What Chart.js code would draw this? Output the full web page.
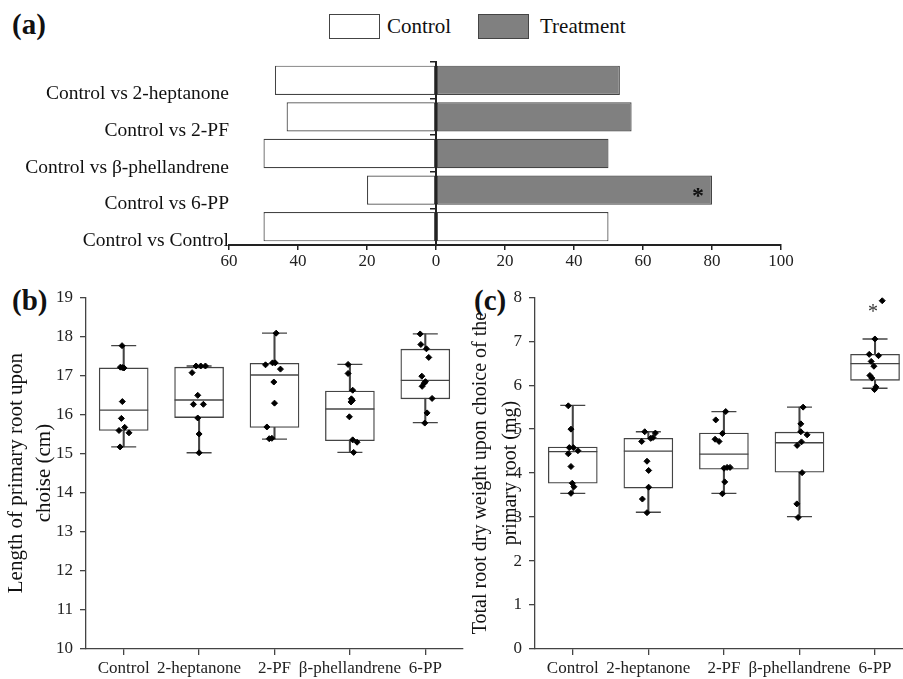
<!DOCTYPE html>
<html>
<head>
<meta charset="utf-8">
<script src="https://cdn.jsdelivr.net/npm/chart.js@4.4.1/dist/chart.umd.min.js"></script>
<style>
  body { margin: 0; background: #fff; width: 903px; height: 679px; position: relative; overflow: hidden; }
  canvas { position: absolute; }
  .tag { position: absolute; font: bold 29px "Liberation Serif", serif; line-height: 1; color: #111; }
  .key { position: absolute; top: 14px; width: 49px; height: 23px; border: 1.2px solid #444; }
  .keyText { position: absolute; top: 14px; font: 21px "Liberation Serif", serif; line-height: 25px; color: #111; }
</style>
</head>
<body>
<div class="tag" style="left:12px;top:10px">(a)</div>
<div class="tag" style="left:12px;top:286px">(b)</div>
<div class="tag" style="left:474px;top:286px">(c)</div>
<div id="legend"></div>
<canvas id="choiceChart" width="903" height="280" style="left:0;top:0"></canvas>
<canvas id="lengthChart" width="466" height="399" style="left:0;top:280px"></canvas>
<canvas id="weightChart" width="440" height="399" style="left:463px;top:280px"></canvas>
<script>
// (a) share of choices, %
const pairLabels = ["Control vs 2-heptanone", "Control vs 2-PF", "Control vs β-phellandrene", "Control vs 6-PP", "Control vs Control"];
const controlShare = [46.7, 43.3, 50, 20, 50];
const treatmentShare = [53.3, 56.7, 50, 80, 50];

const groups = ["Control", "2-heptanone", "2-PF", "β-phellandrene", "6-PP"];

// (b) length of primary root, cm
const lenMin = [15.17, 15.02, 15.37, 15.03, 15.79];
const lenQ1 = [15.59, 15.92, 15.67, 15.33, 16.4];
const lenMed = [16.11, 16.37, 17.01, 16.14, 16.87];
const lenQ3 = [17.19, 17.21, 17.31, 16.6, 17.67];
const lenMax = [17.76, 17.24, 18.08, 17.28, 18.06];
const lenPoints = [
  [17.76, 17.21, 17.2, 17.19, 16.33, 15.9, 15.67, 15.59, 15.53, 15.17],
  [17.07, 17.24, 17.24, 17.24, 16.49, 16.26, 16.26, 15.91, 15.5, 15.02],
  [18.08, 17.27, 17.32, 17.32, 17.16, 16.83, 16.29, 15.68, 15.38, 15.39],
  [17.28, 17.05, 16.62, 16.4, 16.36, 16.32, 15.94, 15.35, 15.29, 15.03],
  [18.06, 17.79, 17.68, 17.46, 16.98, 16.8, 16.84, 16.72, 16.41, 16.04, 15.78],
];
const lenJitter = [
  [-0.022, -0.044, -0.018, 0.004, -0.018, -0.031, 0.013, -0.062, 0.07, -0.048],
  [-0.093, -0.04, 0.022, 0.084, -0.018, -0.075, 0.057, -0.018, 0, 0],
  [0.022, -0.119, -0.026, 0.009, 0.079, -0.009, 0, -0.101, -0.07, -0.035],
  [-0.024, -0.024, 0.037, 0.02, 0.033, 0.015, -0.007, 0.037, 0.095, 0.05],
  [-0.068, -0.059, 0.015, 0.046, -0.046, -0.015, 0.002, -0.042, 0.09, 0.024, -0.007],
];

// (c) total root dry weight, mg
const wtMin = [3.54, 3.11, 3.54, 3.01, 5.93];
const wtQ1 = [3.77, 3.66, 4.09, 4.02, 6.11];
const wtMed = [4.49, 4.5, 4.43, 4.69, 6.49];
const wtQ3 = [4.59, 4.79, 4.91, 4.93, 6.7];
const wtMax = [5.54, 4.94, 5.4, 5.5, 7.05];
const wtPoints = [
  [5.53, 5.0, 4.58, 4.58, 4.44, 4.51, 4.15, 3.77, 3.69, 3.54],
  [4.94, 4.91, 4.79, 4.81, 4.72, 4.27, 4.06, 3.68, 3.41, 3.1],
  [5.4, 5.21, 4.9, 4.77, 4.72, 4.11, 4.13, 4.13, 3.8, 3.53],
  [5.5, 5.12, 4.94, 4.87, 4.71, 4.63, 4.01, 3.3, 2.99],
  [7.92, 7.05, 6.7, 6.67, 6.54, 6.43, 6.22, 6.16, 5.96, 5.9],
];
const wtJitter = [
  [-0.059, -0.024, -0.046, 0.007, -0.059, 0.068, -0.024, -0.007, 0.015, -0.024],
  [-0.048, 0.093, 0.031, 0.062, -0.088, -0.018, 0.004, 0.004, -0.079, -0.018],
  [0.024, -0.108, -0.02, -0.117, -0.064, 0.002, 0.042, 0.081, 0.011, -0.02],
  [0.048, 0.018, 0.018, 0.101, 0.026, -0.031, 0.035, -0.035, -0.018],
  [0.095, -0.002, -0.077, 0.046, -0.051, -0.015, -0.068, -0.042, 0.011, -0.007],
];

const serif = "Liberation Serif";
const ink = "#222";
const line = "#444";

// draws the significance asterisks at data positions
const starPlugin = {
  id: "stars",
  afterDatasetsDraw(chart, args, opts) {
    const { ctx, scales } = chart;
    ctx.save();
    ctx.font = opts.font;
    ctx.fillStyle = opts.color;
    ctx.textAlign = "center";
    ctx.textBaseline = "middle";
    opts.marks.forEach((m) => {
      const x = scales.x.getPixelForValue(m.x) + (m.dx || 0);
      const y = scales.y.getPixelForValue(m.y) + (m.dy || 0);
      ctx.fillText("*", x, y);
    });
    ctx.restore();
  },
};

const choiceChart = new Chart(document.getElementById("choiceChart"), {
  type: "bar",
  data: {
    labels: pairLabels,
    datasets: [
      {
        label: "Control",
        data: controlShare.map((v) => -v),
        backgroundColor: "#fff",
        borderColor: line,
        borderWidth: 1.2,
        borderSkipped: false,
        categoryPercentage: 1,
        barPercentage: 0.8,
      },
      {
        label: "Treatment",
        data: treatmentShare,
        backgroundColor: pairLabels.map((p) => (p === "Control vs Control" ? "#fff" : "#808080")),
        borderColor: line,
        borderWidth: 1.2,
        borderSkipped: false,
        categoryPercentage: 1,
        barPercentage: 0.8,
      },
    ],
  },
  options: {
    indexAxis: "y",
    responsive: false,
    animation: false,
    events: [],
    layout: { autoPadding: false, padding: { left: 0, right: 122, top: 62, bottom: 0 } },
    plugins: {
      legend: { display: false },
      tooltip: { enabled: false },
      stars: { font: `bold 24px ${serif}`, color: "#111", marks: [{ x: treatmentShare[3], y: 3, dx: -14, dy: 7 }] },
    },
    scales: {
      x: {
        stacked: true,
        min: -60,
        max: 100,
        ticks: { stepSize: 20, callback: (v) => Math.abs(v), color: ink, padding: 1, font: { family: serif, size: 17 } },
        grid: { drawOnChartArea: false, tickLength: 5, color: "#222", lineWidth: 1.5 },
        border: { color: "#222", width: 2 },
        afterFit: (s) => { s.height = 35; s.paddingLeft = 0; s.paddingRight = 0; },
      },
      y: {
        stacked: true,
        grid: { display: false, drawTicks: false },
        border: { display: false },
        ticks: { labelOffset: 14, padding: 0, color: "#111", font: { family: serif, size: 19.5 } },
        afterFit: (s) => { s.width = 229; },
      },
      yZero: {
        axis: "y",
        type: "category",
        position: { x: 0 },
        offset: true,
        grid: { offset: true, drawOnChartArea: false, tickLength: 5, color: "#222", lineWidth: 1.5 },
        border: { color: "#222", width: 2 },
        ticks: { display: false },
      },
    },
  },
  plugins: [starPlugin],
});

// legend for (a), built from the chart's own datasets
const keyLeft = [329, 478];
const textLeft = [387, 540];
choiceChart.data.datasets.forEach((ds, i) => {
  const box = document.createElement("div");
  box.className = "key";
  box.style.left = keyLeft[i] + "px";
  box.style.background = Array.isArray(ds.backgroundColor) ? ds.backgroundColor[0] : ds.backgroundColor;
  const txt = document.createElement("div");
  txt.className = "keyText";
  txt.style.left = textLeft[i] + "px";
  txt.textContent = ds.label;
  document.getElementById("legend").append(box, txt);
});

function boxDatasets(mins, q1, med, q3, maxs, points, jitter) {
  return [
    {
      type: "bar",
      data: groups.map((_, i) => ({ x: i, y: [mins[i], maxs[i]] })),
      backgroundColor: line,
      barThickness: 1.4,
      grouped: false,
      order: 4,
    },
    {
      type: "bar",
      data: groups.map((_, i) => ({ x: i, y: [q1[i], q3[i]] })),
      backgroundColor: "#fff",
      borderColor: line,
      borderWidth: 1.3,
      borderSkipped: false,
      barThickness: 49,
      grouped: false,
      order: 3,
    },
    {
      type: "scatter",
      data: groups.map((_, i) => ({ x: i, y: med[i] })),
      pointStyle: "line",
      pointRadius: 24.5,
      pointBorderColor: line,
      pointBorderWidth: 1.3,
      order: 2,
    },
    {
      type: "scatter",
      data: groups.flatMap((_, i) => [{ x: i, y: mins[i] }, { x: i, y: maxs[i] }]),
      pointStyle: "line",
      pointRadius: 12.5,
      pointBorderColor: line,
      pointBorderWidth: 1.3,
      order: 2,
    },
    {
      type: "scatter",
      data: points.flatMap((vals, i) => vals.map((v, k) => ({ x: i + jitter[i][k], y: v }))),
      pointStyle: "rectRot",
      pointRadius: 3,
      pointBackgroundColor: "#000",
      pointBorderColor: "#000",
      pointBorderWidth: 1,
      order: 1,
    },
  ];
}

function boxChart(id, datasets, yMin, yMax, xMax, yWidth, rightPad, title, titleSize, titleLine, stars) {
  return new Chart(document.getElementById(id), {
    type: "bar",
    data: { datasets },
    options: {
      responsive: false,
      animation: false,
      events: [],
      layout: { autoPadding: false, padding: { top: 16, right: rightPad, left: 0, bottom: 0 } },
      plugins: {
        legend: { display: false },
        tooltip: { enabled: false },
        stars: { font: `20px ${serif}`, color: "#333", marks: stars },
      },
      scales: {
        x: {
          type: "linear",
          min: -0.5,
          max: xMax,
          offset: false,
          afterBuildTicks: (s) => { s.ticks = groups.map((_, i) => ({ value: i })); },
          ticks: {
            callback: (v) => groups[v],
            autoSkip: false,
            maxRotation: 0,
            minRotation: 0,
            padding: 3,
            color: ink,
            font: { family: serif, size: 17 },
          },
          grid: { offset: false, drawOnChartArea: false, tickLength: 6, color: line, lineWidth: 1.3 },
          border: { color: line, width: 1.3 },
          afterFit: (s) => { s.height = 30; s.paddingLeft = 0; s.paddingRight = 0; },
        },
        y: {
          min: yMin,
          max: yMax,
          ticks: { stepSize: 1, padding: 7, color: ink, font: { family: serif, size: 17 } },
          grid: { drawOnChartArea: false, tickLength: 6, color: line, lineWidth: 1.3 },
          border: { color: line, width: 1.3 },
          title: {
            display: true,
            text: title,
            color: "#111",
            padding: { top: 3, bottom: 0 },
            font: { family: serif, size: titleSize, lineHeight: titleLine },
          },
          afterFit: (s) => { s.width = yWidth; },
        },
      },
    },
    plugins: [starPlugin],
  });
}

boxChart(
  "lengthChart",
  boxDatasets(lenMin, lenQ1, lenMed, lenQ3, lenMax, lenPoints, lenJitter),
  10, 19, 4.5, 86, 3,
  ["Length of primary root upon", "choise (cm)"], 21, 1.33, []
);

boxChart(
  "weightChart",
  boxDatasets(wtMin, wtQ1, wtMed, wtQ3, wtMax, wtPoints, wtJitter),
  0, 8, 4.37, 72, 0,
  ["Total root dry weight upon choice of the", "primary root (mg)"], 20, 1.5,
  [{ x: 4, y: 7.73, dx: -2, dy: 4 }]
);
</script>
</body>
</html>
